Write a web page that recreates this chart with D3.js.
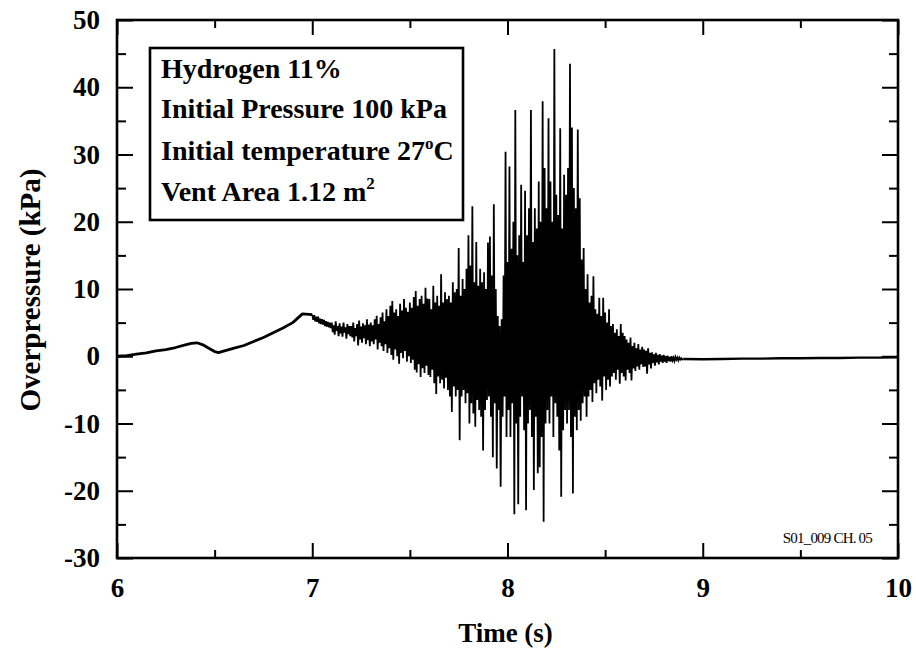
<!DOCTYPE html>
<html>
<head>
<meta charset="utf-8">
<script src="https://cdn.jsdelivr.net/npm/d3@7"></script>
<style>
body { margin: 0; background: #fff; }
text { font-family: "Liberation Serif", "Times New Roman", serif; font-weight: bold; fill: #000; }
</style>
</head>
<body>
<div id="chart"></div>
<script>
// smooth build-up before the oscillations, [time s, overpressure kPa]
var rise = [
  [6.00, 0.0], [6.05, 0.1], [6.10, 0.3], [6.15, 0.5], [6.20, 0.8], [6.25, 1.0],
  [6.30, 1.3], [6.35, 1.7], [6.38, 1.9], [6.41, 2.0], [6.44, 1.7], [6.47, 1.2],
  [6.50, 0.7], [6.52, 0.55], [6.55, 0.8], [6.60, 1.2], [6.65, 1.6], [6.70, 2.2],
  [6.75, 2.8], [6.80, 3.5], [6.85, 4.2], [6.90, 5.0], [6.95, 6.3]
];

// oscillating part, sampled every 5 ms from 7.00 s (one row = 0.1 s)
var burstStart = 7.00, burstStep = 0.005;
var burst = [
  6.2,5.4, 6.1,5.2, 5.9,5.1, 5.9,4.9, 5.6,4.8, 5.5,4.7, 5.4,4.5, 5.2,4.4, 5.1,4.3, 5.0,4.2,
  5.0,3.6, 4.6,3.2, 5.2,3.8, 4.5,3.0, 4.9,3.4, 4.4,2.9, 5.0,3.5, 4.3,2.6, 4.8,3.3, 4.5,3.0,
  4.5,2.8, 5.0,2.2, 4.2,3.0, 4.8,1.6, 5.3,2.5, 4.4,2.0, 4.9,2.7, 4.6,1.8, 5.5,2.4, 4.7,1.5,
  5.0,2.2, 4.6,1.8, 5.5,2.5, 6.0,1.0, 4.8,2.0, 5.8,1.5, 6.5,0.8, 5.2,1.8, 7.0,0.5, 6.0,1.2,
  7.5,0.2, 8.2,-0.5, 6.5,1.0, 7.0,0.0, 6.0,-1.1, 7.8,0.5, 6.8,-0.3, 8.5,0.8, 7.2,-0.8, 6.6,0.0,
  8.0,-1.0, 7.2,-0.5, 8.8,-2.0, 9.7,-2.4, 7.5,-1.2, 8.5,-3.1, 9.0,-1.8, 7.8,-2.5, 10.2,-1.4, 8.6,-2.8,
  8.5,-3.1, 7.0,-2.0, 10.5,-4.0, 8.0,-5.6, 9.0,-3.0, 7.5,-4.0, 12.2,-3.5, 8.0,-4.8, 9.5,-3.2, 8.5,-5.0,
  9.0,-6.0, 8.0,-8.3, 11.0,-4.5, 9.5,-6.0, 10.0,-5.0, 16.1,-12.5, 9.0,-6.0, 11.5,-5.0, 10.0,-7.0, 13.0,-5.5,
  18.0,-10.0, 13.5,-7.0, 22.3,-8.5, 11.0,-10.5, 17.0,-6.5, 10.5,-8.0, 13.0,-9.0, 11.0,-14.0, 12.5,-8.0, 10.0,-6.5,
  16.9,-6.0, 17.8,-9.0, 12.0,-15.0, 22.6,-7.0, 10.0,-16.7, 6.0,-8.0, 4.5,-19.4, 5.5,-9.0, 12.0,-6.0, 30.4,-12.0,
  14.0,-8.0, 28.2,-12.0, 16.0,-7.0, 20.0,-23.5, 36.6,-10.0, 15.0,-22.0, 18.0,-9.0, 25.5,-6.0, 14.0,-11.0, 24.6,-22.9,
  18.0,-10.0, 22.0,-8.0, 36.6,-12.0, 17.0,-19.9, 22.0,-9.0, 19.0,-17.4, 26.0,-16.5, 20.0,-12.0, 37.9,-24.6, 28.0,-10.0,
  22.0,-8.0, 35.4,-10.0, 26.0,-6.0, 20.0,-12.0, 45.7,-7.0, 24.0,-9.0, 21.0,-14.0, 33.9,-20.9, 19.0,-11.0, 27.0,-8.0,
  24.0,-10.0, 28.0,-8.0, 43.5,-12.0, 34.0,-20.4, 25.0,-9.0, 22.0,-11.0, 33.7,-8.0, 23.5,-9.6, 14.4,-7.0, 16.1,-6.0,
  10.0,-9.0, 12.2,-6.0, 8.0,-5.0, 9.0,-6.8, 11.9,-4.0, 7.0,-5.5, 6.3,-3.5, 8.7,-4.5, 6.0,-6.6, 8.7,-3.0,
  6.5,-5.0, 5.0,-3.5, 7.0,-4.5, 4.5,-3.0, 4.8,-2.5, 3.5,-3.5, 4.0,-2.0, 3.0,-4.1, 4.8,-2.5, 3.5,-3.0,
  3.0,-3.6, 2.5,-2.0, 2.0,-2.5, 2.8,-3.6, 1.5,-1.8, 2.0,-2.2, 1.2,-1.5, 1.8,-2.0, 1.0,-1.2, 1.4,-1.6,
  1.0,-1.5, 0.8,-2.6, 1.2,-1.2, 0.5,-1.8, 0.6,-1.0, 0.3,-1.4, 0.5,-0.9, 0.2,-1.2, 0.3,-0.8, 0.1,-1.0,
  0.2,-0.8, 0.0,-1.0, 0.1,-0.7, -0.1,-0.8, 0.0,-0.6, -0.2,-0.7, -0.1,-0.5, -0.2,-0.6, -0.2,-0.5, -0.3,-0.5
];

// quiet tail after the event
var tail = [
  [8.90, -0.4], [9.00, -0.45], [9.10, -0.4], [9.20, -0.35], [9.30, -0.35], [9.40, -0.3],
  [9.50, -0.3], [9.60, -0.25], [9.70, -0.25], [9.80, -0.2], [9.90, -0.2], [10.00, -0.15]
];

var xMajor = [6, 7, 8, 9, 10];
var xMinor = [6.5, 7.5, 8.5, 9.5];
var yMajor = [-30, -20, -10, 0, 10, 20, 30, 40, 50];
var yMinor = [-25, -15, -5, 5, 15, 25, 35, 45];
var infoLines = ["Hydrogen 11%", "Initial Pressure 100 kPa", "Initial temperature 27", "Vent Area 1.12 m"];

(function() {
var W = 916, H = 659;
var pl = 117, pr = 898, pt = 20, pb = 558;

var svg = d3.select("#chart")
  .append("svg")
  .attr("width", W)
  .attr("height", H);

var x = d3.scaleLinear().domain([6, 10]).range([pl, pr]);
var y = d3.scaleLinear().domain([-30, 50]).range([pb, pt]);

var burstPts = burst.map(function(p, i) { return [burstStart + i * burstStep, p]; });

var line = d3.line()
  .x(function(d) { return x(d[0]); })
  .y(function(d) { return y(d[1]); });

// the trace
svg.append("path")
  .datum(rise.concat([burstPts[0]]))
  .attr("d", line)
  .attr("fill", "none")
  .attr("stroke", "#000")
  .attr("stroke-width", 2.8)
  .attr("stroke-linejoin", "round");

svg.append("path")
  .datum(burstPts.concat([tail[0]]))
  .attr("d", line)
  .attr("fill", "none")
  .attr("stroke", "#000")
  .attr("stroke-width", 1.8);

svg.append("path")
  .datum(tail)
  .attr("d", line)
  .attr("fill", "none")
  .attr("stroke", "#000")
  .attr("stroke-width", 2.4);

// axes, ticks pointing inward on all four sides
function styleAxis(g) {
  g.select(".domain").remove();
  g.selectAll("line").attr("stroke", "#000").attr("stroke-width", 2);
  g.selectAll("text").style("font-size", "27px");
}
var plain = function(d) { return String(d); };

svg.append("g")
  .attr("transform", "translate(0," + pb + ")")
  .call(d3.axisBottom(x).tickValues(xMajor).tickSize(-15).tickPadding(20).tickFormat(plain))
  .call(styleAxis);
svg.append("g")
  .attr("transform", "translate(0," + pb + ")")
  .call(d3.axisBottom(x).tickValues(xMinor).tickSize(-8).tickFormat(""))
  .call(styleAxis);
svg.append("g")
  .attr("transform", "translate(0," + pt + ")")
  .call(d3.axisTop(x).tickValues(xMajor).tickSize(-15).tickFormat(""))
  .call(styleAxis);
svg.append("g")
  .attr("transform", "translate(0," + pt + ")")
  .call(d3.axisTop(x).tickValues(xMinor).tickSize(-8).tickFormat(""))
  .call(styleAxis);

svg.append("g")
  .attr("transform", "translate(" + pl + ",0)")
  .call(d3.axisLeft(y).tickValues(yMajor).tickSize(-16).tickPadding(17).tickFormat(plain))
  .call(styleAxis);
svg.append("g")
  .attr("transform", "translate(" + pl + ",0)")
  .call(d3.axisLeft(y).tickValues(yMinor).tickSize(-9).tickFormat(""))
  .call(styleAxis);
svg.append("g")
  .attr("transform", "translate(" + pr + ",0)")
  .call(d3.axisRight(y).tickValues(yMajor).tickSize(-16).tickFormat(""))
  .call(styleAxis);
svg.append("g")
  .attr("transform", "translate(" + pr + ",0)")
  .call(d3.axisRight(y).tickValues(yMinor).tickSize(-9).tickFormat(""))
  .call(styleAxis);

// frame
svg.append("rect")
  .attr("x", pl).attr("y", pt)
  .attr("width", pr - pl).attr("height", pb - pt)
  .attr("fill", "none").attr("stroke", "#000").attr("stroke-width", 2.6);

// axis titles
svg.append("text")
  .attr("x", (pl + pr) / 2 - 2)
  .attr("y", 642)
  .attr("text-anchor", "middle")
  .style("font-size", "27px")
  .text("Time (s)");

svg.append("text")
  .attr("transform", "translate(40," + 290 + ") rotate(-90)")
  .attr("text-anchor", "middle")
  .style("font-size", "29px")
  .text("Overpressure (kPa)");

// info box
svg.append("rect")
  .attr("x", 150).attr("y", 48)
  .attr("width", 313).attr("height", 172)
  .attr("fill", "#fff").attr("stroke", "#000").attr("stroke-width", 2.6);

var baselines = [78, 118, 160, 201];
infoLines.forEach(function(s, i) {
  var t = svg.append("text")
    .attr("x", 161)
    .attr("y", baselines[i])
    .style("font-size", "28px")
    .text(s);
  if (i == 2) {
    t.append("tspan").attr("dy", -11).style("font-size", "17px").text("o");
    t.append("tspan").attr("dy", 11).text("C");
  }
  if (i == 3) {
    t.append("tspan").attr("dy", -12).style("font-size", "17px").text("2");
  }
});

// file tag
svg.append("text")
  .attr("x", 872)
  .attr("y", 543)
  .attr("text-anchor", "end")
  .style("font-size", "15px")
  .style("font-weight", "normal")
  .style("letter-spacing", "-0.8px")
  .text("S01_009 CH. 05");
})();
</script>
</body>
</html>
